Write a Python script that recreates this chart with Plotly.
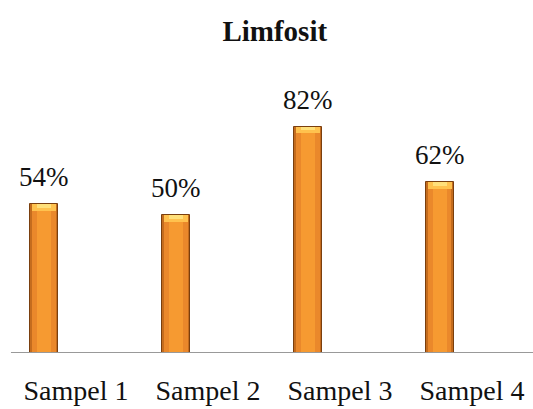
import plotly.graph_objects as go

# Lymphocyte share per sample
categories = ["Sampel 1", "Sampel 2", "Sampel 3", "Sampel 4"]
values = [54, 50, 82, 62]
labels = ["54%", "50%", "82%", "62%"]

FONT = "Liberation Serif"

fig = go.Figure()

# layered bars give the bevelled look: dark rim, mid body, light centre
layers = [
    (0.215, "#C46C1E", dict(color="#7A3F0E", width=1)),
    (0.175, "#EA882B", dict(width=0)),
    (0.11, "#F69A31", dict(width=0)),
]
for w, col, line in layers:
    fig.add_trace(go.Bar(
        x=categories, y=values, width=w,
        marker=dict(color=col, line=line),
        hoverinfo="skip", showlegend=False,
    ))

# glossy cap at the top of each bar
cap = 2.4
fig.add_trace(go.Bar(
    x=categories, y=[cap] * len(values), base=[v - cap for v in values], width=0.185,
    marker=dict(color="#FFC24E", line=dict(width=0)),
    hoverinfo="skip", showlegend=False,
))
fig.add_trace(go.Bar(
    x=categories, y=[cap * 0.55] * len(values), base=[v - cap * 0.55 for v in values], width=0.1,
    marker=dict(color="#FFE07A", line=dict(width=0)),
    hoverinfo="skip", showlegend=False,
))

for c, v, t in zip(categories, values, labels):
    fig.add_annotation(
        x=c, y=v, text=t, showarrow=False, yanchor="bottom", yshift=10,
        font=dict(family=FONT, size=27, color="#111111"),
    )

# baseline
fig.add_shape(type="line", xref="x", yref="y", x0=-0.25, x1=3.705, y0=0, y1=0,
              line=dict(color="#999999", width=2))

fig.update_layout(
    width=533, height=409,
    margin=dict(l=0, r=0, t=60, b=56, autoexpand=False),
    paper_bgcolor="white", plot_bgcolor="white",
    barmode="overlay", bargap=0,
    title=dict(text="<b>Limfosit</b>", x=0.5155, xanchor="center", y=0.925, yanchor="middle",
               font=dict(family=FONT, size=29, color="#111111")),
    xaxis=dict(range=[-0.333, 3.705], showgrid=False, showline=False, zeroline=False,
               ticks="", tickfont=dict(family=FONT, size=28, color="#111111"),
               ticklabelstandoff=18, ticklabelshift=32, automargin=False),
    yaxis=dict(range=[0, 106.2], visible=False),
)

fig.write_html("out.html")
